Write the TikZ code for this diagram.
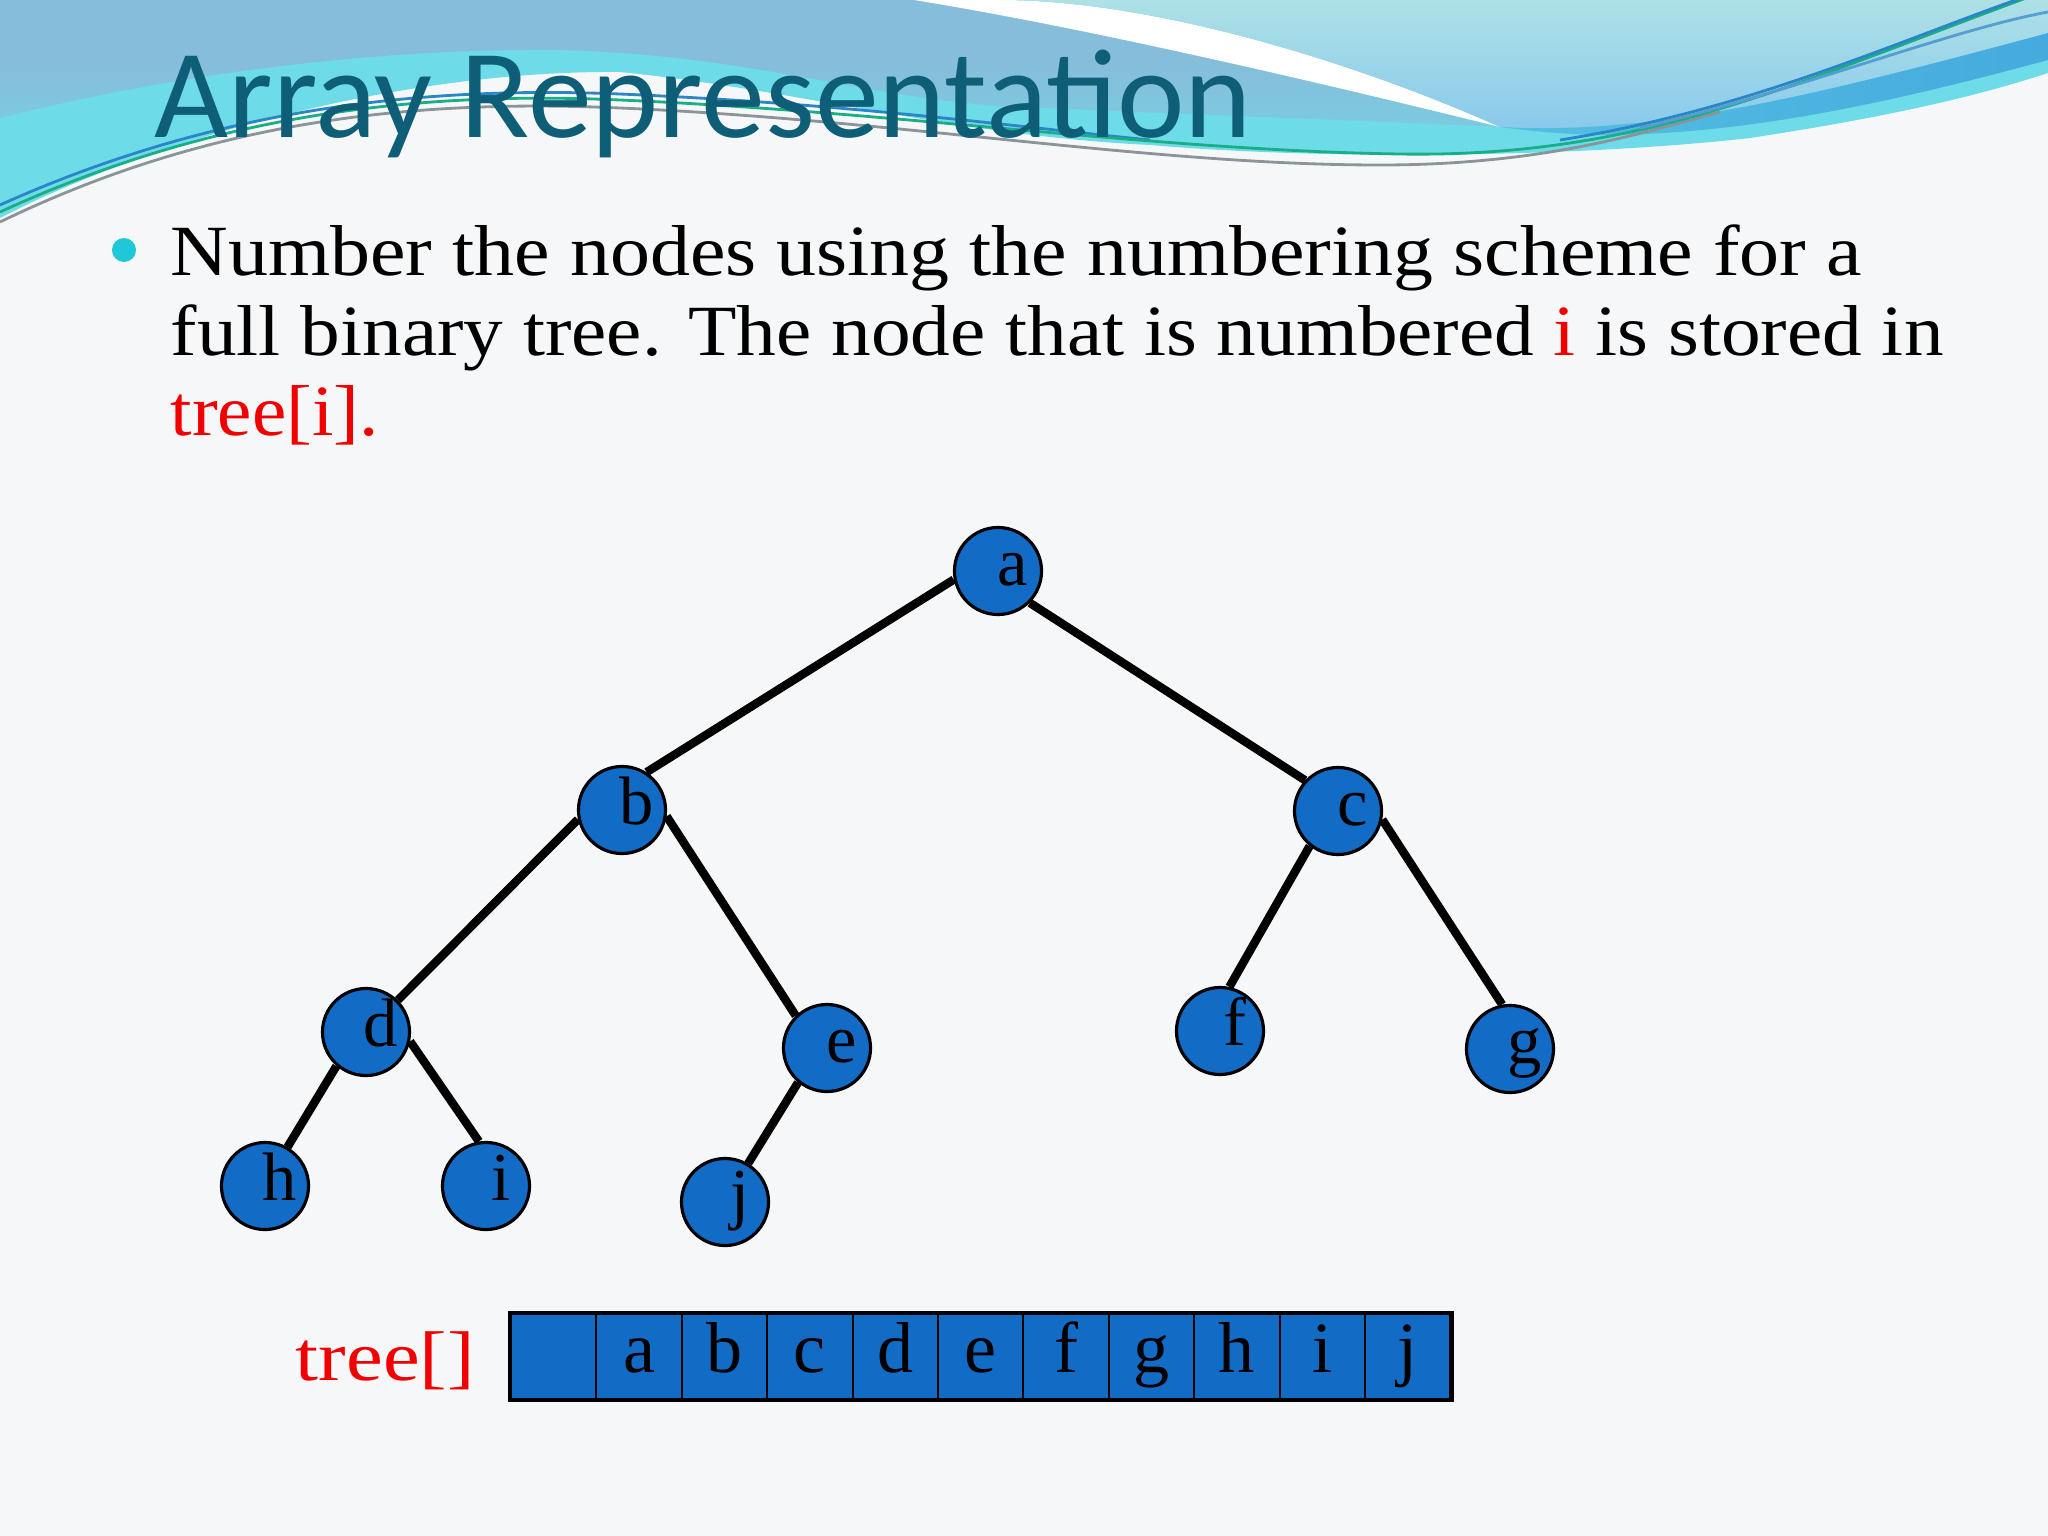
\documentclass[tikz,border=0pt]{standalone}
\usepackage{fontspec}
\setmainfont{Liberation Serif}
\newfontfamily\titlefont{Carlito}
\usepackage{graphicx}
\definecolor{nodeblue}{HTML}{126CC6}
\definecolor{titleteal}{HTML}{0D5E76}
\definecolor{steel}{HTML}{86BDDA}
\definecolor{cyanband}{HTML}{6EDBE8}
\definecolor{skytop}{HTML}{AEE1E6}
\definecolor{skybot}{HTML}{88C8EC}
\definecolor{blueband}{HTML}{45AADE}
\definecolor{bgc}{HTML}{F6F7F8}
\definecolor{bulletc}{HTML}{1EC8D6}
\definecolor{lgreen}{HTML}{1AAE86}
\definecolor{lblue}{HTML}{2A86C6}
\definecolor{lgrey}{HTML}{8A9499}
\definecolor{txtred}{HTML}{F20000}
\newcommand\nodelbl[1]{\makebox[0pt]{\hspace*{8.5pt}#1}}
\tikzset{
  treenode/.style={circle, draw=black, line width=0.9pt, fill=nodeblue, minimum size=0.87cm, inner sep=0pt,
    font=\fontsize{19.5}{20}\selectfont, text height=15pt, text depth=6.5pt},
  treeedge/.style={line width=2.4pt, black},
  cellbox/.style={rectangle, draw=black, line width=0.6pt, fill=nodeblue, minimum width=0.854cm, minimum height=0.85cm,
    inner sep=0pt, font=\fontsize{20.5}{22}\selectfont, text height=15pt, text depth=6pt},
  bodyline/.style={anchor=base west, inner sep=0pt, font=\fontsize{20.5}{24}\selectfont},
  thinline/.style={line width=0.8pt}
}
\begin{document}
\begin{tikzpicture}[x=0.01cm, y=-0.01cm]
\useasboundingbox (0,0) rectangle (2048,1536);
\fill[bgc] (0,0) rectangle (2048,1536);
% header: base cyan
\fill[cyanband] (0,0) -- (2048,0) -- (2048,73)
  .. controls (1980,95) and (1900,115) .. (1750,138)
  .. controls (1600,155) and (1350,162) .. (1150,145)
  .. controls (950,135) and (800,90) .. (620,72)
  .. controls (400,70) and (150,140) .. (0,218) -- cycle;
% steel region
\shade[top color=steel, bottom color=steel!55!cyanband, middle color=steel] (0,0) -- (914,0)
  .. controls (1100,30) and (1350,90) .. (1500,127)
  .. controls (1400,122) and (1200,115) .. (1000,106)
  .. controls (850,95) and (750,55) .. (560,50)
  .. controls (350,48) and (150,80) .. (0,118) -- cycle;
% white swoosh
\fill[white] (914,0) .. controls (1100,30) and (1350,90) .. (1500,127)
  .. controls (1350,60) and (1150,0) .. (1000,0) -- cycle;
% sky region
\shade[top color=skytop, bottom color=skybot] (1000,0) .. controls (1150,0) and (1350,60) .. (1500,127)
  .. controls (1650,135) and (1800,100) .. (2048,33) -- (2048,0) -- cycle;
% blue band
\shade[left color=blueband!60!cyanband, right color=blueband] (1500,127) .. controls (1650,135) and (1800,100) .. (2048,33)
  -- (2048,60) .. controls (1900,100) and (1750,135) .. (1600,135)
  .. controls (1560,134) and (1530,131) .. (1500,127) -- cycle;
% thin lines
\draw[thinline, lblue] (0,205) .. controls (200,115) and (400,85) .. (620,94) .. controls (850,104) and (1000,125) .. (1150,140);
\draw[thinline, lgrey] (0,222) .. controls (200,125) and (400,98) .. (620,108) .. controls (900,120) and (1150,165) .. (1380,165) .. controls (1550,165) and (1650,130) .. (1720,112);
\draw[thinline, lgreen] (0,212) .. controls (200,120) and (400,90) .. (620,100) .. controls (900,112) and (1150,150) .. (1400,154) .. controls (1650,158) and (1800,80) .. (2048,-10);
\draw[thinline, lblue] (1560,140) .. controls (1750,110) and (1900,40) .. (2030,-5);
\draw[thinline, lblue!80!white] (1640,128) .. controls (1800,90) and (1950,30) .. (2048,12);
% title
\node[anchor=base west, inner sep=0pt, text=titleteal] (title) at (154,137)
  {\resizebox{10.96cm}{\height}{\titlefont\fontsize{36}{40}\selectfont Array Representation}};
% bullet text
\fill[bulletc] (124,250) circle[radius=0.12cm];
\node[bodyline] (l1) at (170,275) {\resizebox{16.9cm}{\height}{Number the nodes using the numbering scheme for a}};
\node[bodyline] (l2) at (170,355) {\resizebox{17.72cm}{\height}{full binary tree. The node that is numbered \textcolor{txtred}{i} is stored in}};
\node[bodyline, text=txtred] (l3) at (170,435) {\resizebox{2.08cm}{\height}{tree[i].}};
% tree
\node[treenode] (a) at (998,571) {\nodelbl{a}};
\node[treenode] (b) at (622,810) {\nodelbl{b}};
\node[treenode] (c) at (1338,811) {\nodelbl{c}};
\node[treenode] (d) at (366,1032) {\nodelbl{d}};
\node[treenode] (e) at (827,1048) {\nodelbl{e}};
\node[treenode] (f) at (1220,1031) {\nodelbl{f}};
\node[treenode] (g) at (1510,1049) {\nodelbl{g}};
\node[treenode] (h) at (265,1186) {\nodelbl{h}};
\node[treenode] (i) at (486,1186) {\nodelbl{i}};
\node[treenode] (j) at (725,1202) {\nodelbl{j}};
\draw[treeedge] (a.191) -- (b.57);
\draw[treeedge] (a.315) -- (c.137);
\draw[treeedge] (b.192) -- (d.45);
\draw[treeedge] (b.352) -- (e.134);
\draw[treeedge] (c.231) -- (f.78);
\draw[treeedge] (c.349) -- (g.100);
\draw[treeedge] (d.229) -- (h.60);
\draw[treeedge] (d.348) -- (i.99);
\draw[treeedge] (e.230) -- (j.59);
% array
\node[anchor=base west, inner sep=0pt, text=txtred] (arrlabel) at (295,1380)
  {\resizebox{1.79cm}{\height}{\fontsize{20}{22}\selectfont tree[]}};
\foreach \k/\t in {0/{},1/a,2/b,3/c,4/d,5/e,6/f,7/g,8/h,9/i,10/j}
  \node[cellbox] (cell\k) at ({511+85.4*(\k+0.5)},1356.5) {\t};
\draw[line width=1.2pt] (cell0.north west) rectangle (cell10.south east);
\end{tikzpicture}
\end{document}
